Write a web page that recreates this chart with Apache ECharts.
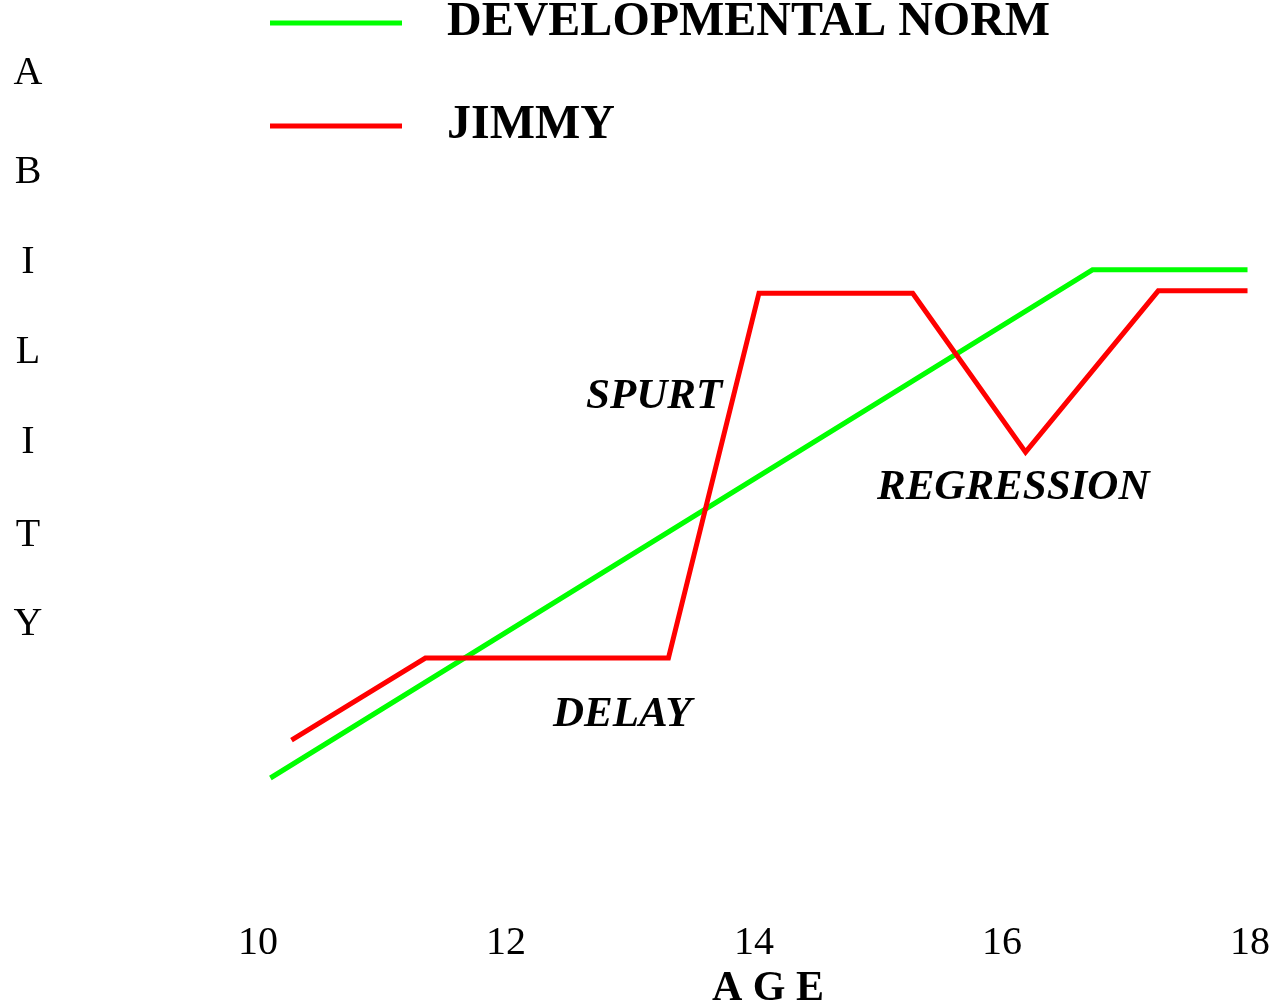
<!DOCTYPE html>
<html>
<head>
<meta charset="utf-8">
<script src="https://cdn.jsdelivr.net/npm/echarts@6/dist/echarts.min.js"></script>
<style>
  html, body { margin: 0; padding: 0; background: #fff; }
  #chart { width: 1274px; height: 1004px; }
</style>
</head>
<body>
<div id="chart"></div>
<script>
// 数据
var seriesNames = ["DEVELOPMENTAL NORM", "JIMMY"];
var normAge = [10.1, 16.73, 17.98];
var normAbility = [12, 96.7, 96.7];
var jimmyAge = [10.27, 11.35, 13.31, 14.04, 15.28, 16.19, 17.26, 17.98];
var jimmyAbility = [18.3, 32, 32, 92.8, 92.8, 66.3, 93.2, 93.2];
var notes = ["SPURT", "DELAY", "REGRESSION"];
var yLetters = ["A", "B", "I", "L", "I", "T", "Y"];

var serif = "'Liberation Serif', 'Times New Roman', serif";
// 竖排字母的纵向位置
var letterTops = [73, 172, 262, 352, 442, 535, 624];

function pairs(xs, ys) {
  return xs.map(function (x, i) { return [x, ys[i]]; });
}

var graphics = yLetters.map(function (ch, i) {
  return {
    type: "text",
    x: 28,
    y: letterTops[i],
    style: {
      text: ch,
      font: "40px " + serif,
      textAlign: "center",
      textVerticalAlign: "middle",
      fill: "#000"
    }
  };
});
graphics.push(
  {
    type: "text", x: 586, y: 397,
    style: { text: notes[0], font: "italic bold 43px " + serif, textVerticalAlign: "middle", fill: "#000" }
  },
  {
    type: "text", x: 553, y: 715,
    style: { text: notes[1], font: "italic bold 43px " + serif, textVerticalAlign: "middle", fill: "#000" }
  },
  {
    type: "text", x: 877, y: 488,
    style: { text: notes[2], font: "italic bold 43px " + serif, textVerticalAlign: "middle", fill: "#000" }
  }
);

var myChart = echarts.init(document.getElementById("chart"));
var option = {
  backgroundColor: "#fff",
  animation: false,
  legend: {
    orient: "vertical",
    left: 265,
    top: -10,
    icon: "rect",
    itemWidth: 132,
    itemHeight: 5,
    itemGap: 47,
    textStyle: {
      fontFamily: serif,
      fontWeight: "bold",
      fontSize: 48,
      lineHeight: 48,
      color: "#000",
      padding: [8, 0, 0, 40]
    },
    data: seriesNames
  },
  grid: { left: 258, right: 24, top: 250, bottom: 154, outerBoundsMode: "none" },
  xAxis: {
    type: "value",
    min: 10,
    max: 18,
    interval: 2,
    name: "A G E",
    nameLocation: "middle",
    nameGap: 117,
    nameTextStyle: {
      fontFamily: serif,
      fontWeight: "bold",
      fontSize: 42,
      color: "#000",
      padding: [0, 0, 0, 28]
    },
    axisLine: { show: false },
    axisTick: { show: false },
    splitLine: { show: false },
    axisLabel: {
      margin: 73,
      fontFamily: serif,
      fontSize: 40,
      color: "#000"
    }
  },
  yAxis: {
    type: "value",
    min: 0,
    max: 100,
    show: false
  },
  graphic: graphics,
  series: [
    {
      name: seriesNames[0],
      type: "line",
      showSymbol: false,
      color: "#00ff00",
      lineStyle: { width: 5, color: "#00ff00", cap: "butt", join: "miter" },
      data: pairs(normAge, normAbility)
    },
    {
      name: seriesNames[1],
      type: "line",
      showSymbol: false,
      color: "#ff0000",
      lineStyle: { width: 5, color: "#ff0000", cap: "butt", join: "miter" },
      data: pairs(jimmyAge, jimmyAbility)
    }
  ]
};
myChart.setOption(option, true);
</script>
</body>
</html>
